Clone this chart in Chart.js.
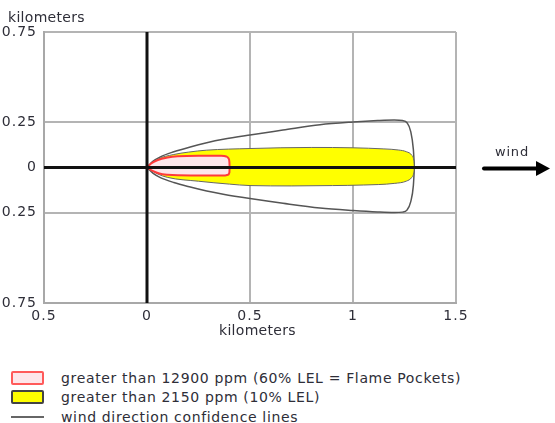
<!DOCTYPE html>
<html>
<head>
<meta charset="utf-8">
<script src="https://cdn.jsdelivr.net/npm/chart.js@4.4.1/dist/chart.umd.min.js"></script>
<style>
  html, body { margin: 0; padding: 0; background: #fff; }
  body { width: 555px; height: 423px; position: relative; overflow: hidden;
         font-family: "DejaVu Sans", Verdana, sans-serif; color: #2e2e38; }
  #wrap { position: absolute; left: 0; top: 0; width: 555px; height: 345px; }
  .lbl { position: absolute; font-size: 14px; white-space: nowrap; line-height: 1; letter-spacing: 0.3px; }
  .legend { position: absolute; left: 11px; top: 368px; font-size: 14px; letter-spacing: 0.65px; }
  .row { display: flex; align-items: center; height: 19.5px; }
  .sw { width: 33px; height: 14px; margin-right: 17px; box-sizing: border-box; border-radius: 2px; }
  .line { width: 33px; height: 2px; background: #666; margin-right: 17px; }
</style>
</head>
<body>
<div id="wrap"><canvas id="plume" width="555" height="345"></canvas></div>

<div class="lbl" style="left:8px; top:10px;">kilometers</div>
<div class="lbl" style="left:219px; top:323px;">kilometers</div>
<div class="lbl" style="left:495px; top:145px; font-size:13px; letter-spacing:0.8px;">wind</div>
<svg style="position:absolute; left:480px; top:158px;" width="75" height="22">
  <line x1="4" y1="10.5" x2="60" y2="10.5" stroke="#000" stroke-width="4" stroke-linecap="round"/>
  <polygon points="56,3 70,10.5 56,18" fill="#000"/>
</svg>

<div class="legend">
  <div class="row"><div class="sw" style="background:#fde6ea;border:2px solid #ff5a5a;"></div>greater than 12900 ppm (60% LEL = Flame Pockets)</div>
  <div class="row"><div class="sw" style="background:#ffff00;border:2px solid #444;"></div>greater than 2150 ppm (10% LEL)</div>
  <div class="row"><div class="line"></div>wind direction confidence lines</div>
</div>

<script>
// tick values (km)
const xTicks = [-0.5, 0, 0.5, 1, 1.5];
const yTicks = [-0.75, -0.25, 0, 0.25, 0.75];

// red zone: > 12900 ppm (flame pockets)
const redUpper = [[0,0],[0.02,0.022],[0.05,0.04],[0.1,0.055],[0.15,0.062],[0.25,0.065],[0.36,0.065],[0.385,0.061],[0.396,0.05],[0.4,0.03],[0.401,0]];
const redLower = [[0,0],[0.03,-0.02],[0.06,-0.033],[0.1,-0.04],[0.15,-0.043],[0.3,-0.044],[0.38,-0.044],[0.393,-0.04],[0.4,-0.028],[0.401,0]];

// yellow zone: > 2150 ppm
const yellowUpper = [[0,0],[0.05,0.045],[0.13,0.072],[0.2,0.085],[0.29,0.096],[0.5,0.105],[0.8,0.111],[1.0,0.109],[1.15,0.103],[1.22,0.097],[1.26,0.087],[1.285,0.068],[1.295,0.04],[1.298,0]];
const yellowLower = [[0,0],[0.05,-0.035],[0.1,-0.055],[0.25,-0.076],[0.4,-0.092],[0.5,-0.1],[0.7,-0.102],[0.9,-0.1],[1.05,-0.097],[1.2,-0.088],[1.26,-0.075],[1.285,-0.055],[1.295,-0.03],[1.298,0]];

// wind direction confidence lines
const confUpper = [[0,0],[0.03,0.035],[0.065,0.059],[0.13,0.087],[0.21,0.114],[0.29,0.137],[0.37,0.156],[0.5,0.18],[0.66,0.207],[0.84,0.237],[1.0,0.252],[1.12,0.26],[1.2,0.263],[1.24,0.26],[1.262,0.248],[1.28,0.2],[1.293,0.1],[1.298,0]];
const confLower = [[0,0],[0.03,-0.033],[0.065,-0.056],[0.13,-0.083],[0.21,-0.108],[0.29,-0.13],[0.37,-0.148],[0.5,-0.172],[0.66,-0.198],[0.84,-0.224],[1.0,-0.238],[1.12,-0.246],[1.2,-0.249],[1.24,-0.247],[1.262,-0.236],[1.28,-0.19],[1.293,-0.1],[1.298,0]];

// axis lines through the source
const xAxisLine = [[-0.5,0],[1.5,0]];
const yAxisLine = [[0,-0.75],[0,0.75]];

const pts = arr => arr.map(p => ({ x: p[0], y: p[1] }));
const fmt = v => String(Math.abs(v));

function zone(data, fillColor, lineColor, width) {
  return {
    data: pts(data),
    showLine: true,
    pointRadius: 0,
    borderColor: lineColor,
    borderWidth: width,
    backgroundColor: fillColor,
    fill: fillColor ? "origin" : false,
    cubicInterpolationMode: "monotone"
  };
}

// wider glyph spacing, closer to the Verdana look of the original
const spacing = {
  id: "spacing",
  beforeDraw: chart => { chart.ctx.letterSpacing = "1px"; }
};

const tickFont = { family: "DejaVu Sans, Verdana, sans-serif", size: 14 };

new Chart(document.getElementById("plume"), {
  type: "scatter",
  data: {
    // first dataset is drawn on top
    datasets: [
      { data: pts(xAxisLine), showLine: true, pointRadius: 0, borderColor: "#111", borderWidth: 3, fill: false },
      { data: pts(yAxisLine), showLine: true, pointRadius: 0, borderColor: "#111", borderWidth: 3, fill: false },
      zone(redUpper, "#fde6ea", "#ff3a3a", 2),
      zone(redLower, "#fde6ea", "#ff3a3a", 2),
      zone(yellowUpper, "#ffff00", "#666", 1),
      zone(yellowLower, "#ffff00", "#666", 1),
      zone(confUpper, null, "#555", 1.5),
      zone(confLower, null, "#555", 1.5)
    ]
  },
  plugins: [spacing],
  options: {
    responsive: false,
    animation: false,
    layout: { padding: { top: 32, right: 99, left: 0, bottom: 0 } },
    plugins: { legend: { display: false }, tooltip: { enabled: false } },
    scales: {
      x: {
        type: "linear",
        min: -0.5,
        max: 1.5,
        afterBuildTicks: s => { s.ticks = xTicks.map(v => ({ value: v })); },
        afterFit: s => { s.height = 42; },
        grid: { color: "#b4b4b4", lineWidth: 2, drawTicks: false },
        border: { color: "#a8a8a8", width: 2 },
        ticks: { autoSkip: false, maxRotation: 0, padding: 5, color: "#2e2e38", font: tickFont, callback: fmt }
      },
      y: {
        type: "linear",
        min: -0.75,
        max: 0.75,
        afterBuildTicks: s => { s.ticks = yTicks.map(v => ({ value: v })); },
        afterFit: s => { s.width = 44; },
        grid: { color: "#b4b4b4", lineWidth: 2, drawTicks: false },
        border: { color: "#a8a8a8", width: 2 },
        ticks: { autoSkip: false, padding: 7, color: "#2e2e38", font: tickFont, callback: fmt }
      }
    }
  }
});
</script>
</body>
</html>
